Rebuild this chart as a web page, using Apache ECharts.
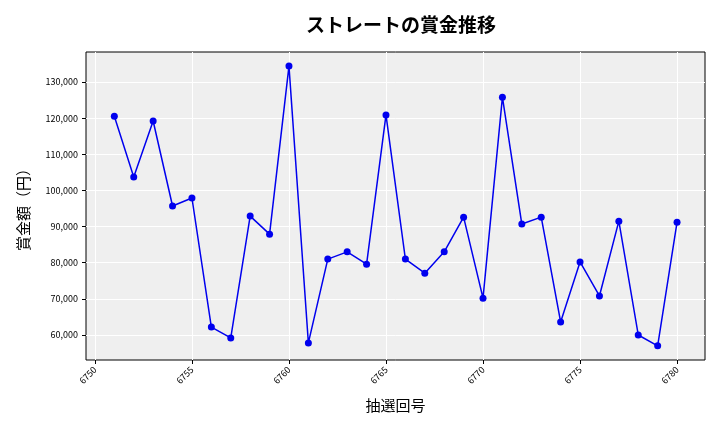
<!DOCTYPE html>
<html><head><meta charset="utf-8">
<script src="https://cdn.jsdelivr.net/npm/echarts@6/dist/echarts.min.js"></script>
<style>html,body{margin:0;padding:0;background:#fff}#c{width:720px;height:432px}</style>
</head><body><div id="c"></div>
<script>
var rounds = [6751,6752,6753,6754,6755,6756,6757,6758,6759,6760,6761,6762,6763,6764,6765,6766,6767,6768,6769,6770,6771,6772,6773,6774,6775,6776,6777,6778,6779,6780];
var prizes = [120500,103700,119200,95700,97900,62200,59200,92900,87900,134400,57800,81000,83000,79600,120900,81000,77100,83000,92600,70200,125800,90700,92600,63600,80200,70800,91500,60000,57000,91200];
var xTicks = [6750,6755,6760,6765,6770,6775,6780];
var yTicks = [60000,70000,80000,90000,100000,110000,120000,130000];

var font = '"Noto Sans CJK JP", sans-serif';
var chart = echarts.init(document.getElementById('c'));
var pts = [];
for (var i = 0; i < rounds.length; i++) pts.push([rounds[i], prizes[i]]);
chart.setOption({
    animation: false,
    title: {text: 'ストレートの賞金推移', left: 396, top: 10, textAlign: 'center',
        textStyle: {fontFamily: font, fontSize: 19, fontWeight: 'bold', color: '#000'}},
    grid: {left: 86, right: 15, top: 52, bottom: 72, show: true, backgroundColor: '#efefef', borderColor: '#000', borderWidth: 1},
    xAxis: {
        type: 'value', min: 6749.54, max: 6781.44,
        name: '抽選回号', nameLocation: 'middle', nameGap: 38,
        nameTextStyle: {fontFamily: font, fontSize: 15, color: '#000'},
        axisLine: {show: false},
        axisTick: {show: true, customValues: xTicks, length: 4, lineStyle: {color: '#000'}},
        axisLabel: {customValues: xTicks, rotate: 45, fontSize: 9, color: '#000', fontFamily: font,
            formatter: function(v){ return String(v); }},
        splitLine: {show: true, lineStyle: {color: '#fff', width: 1}}
    },
    yAxis: {
        type: 'value', min: 53080, max: 138300,
        name: '賞金額（円）', nameLocation: 'middle', nameGap: 55,
        nameTextStyle: {fontFamily: font, fontSize: 15, color: '#000'},
        axisLine: {show: false},
        axisTick: {show: true, customValues: yTicks, length: 4, lineStyle: {color: '#000'}},
        axisLabel: {customValues: yTicks, fontSize: 9, color: '#000', fontFamily: font,
            formatter: function(v){ return v.toLocaleString('en-US'); }},
        splitLine: {show: true, lineStyle: {color: '#fff', width: 1}}
    },
    series: [{
        type: 'line', data: pts, symbol: 'circle', symbolSize: 7,
        lineStyle: {color: '#0000ee', width: 1.5},
        itemStyle: {color: '#0000ee'}
    }]
});
</script></body></html>
